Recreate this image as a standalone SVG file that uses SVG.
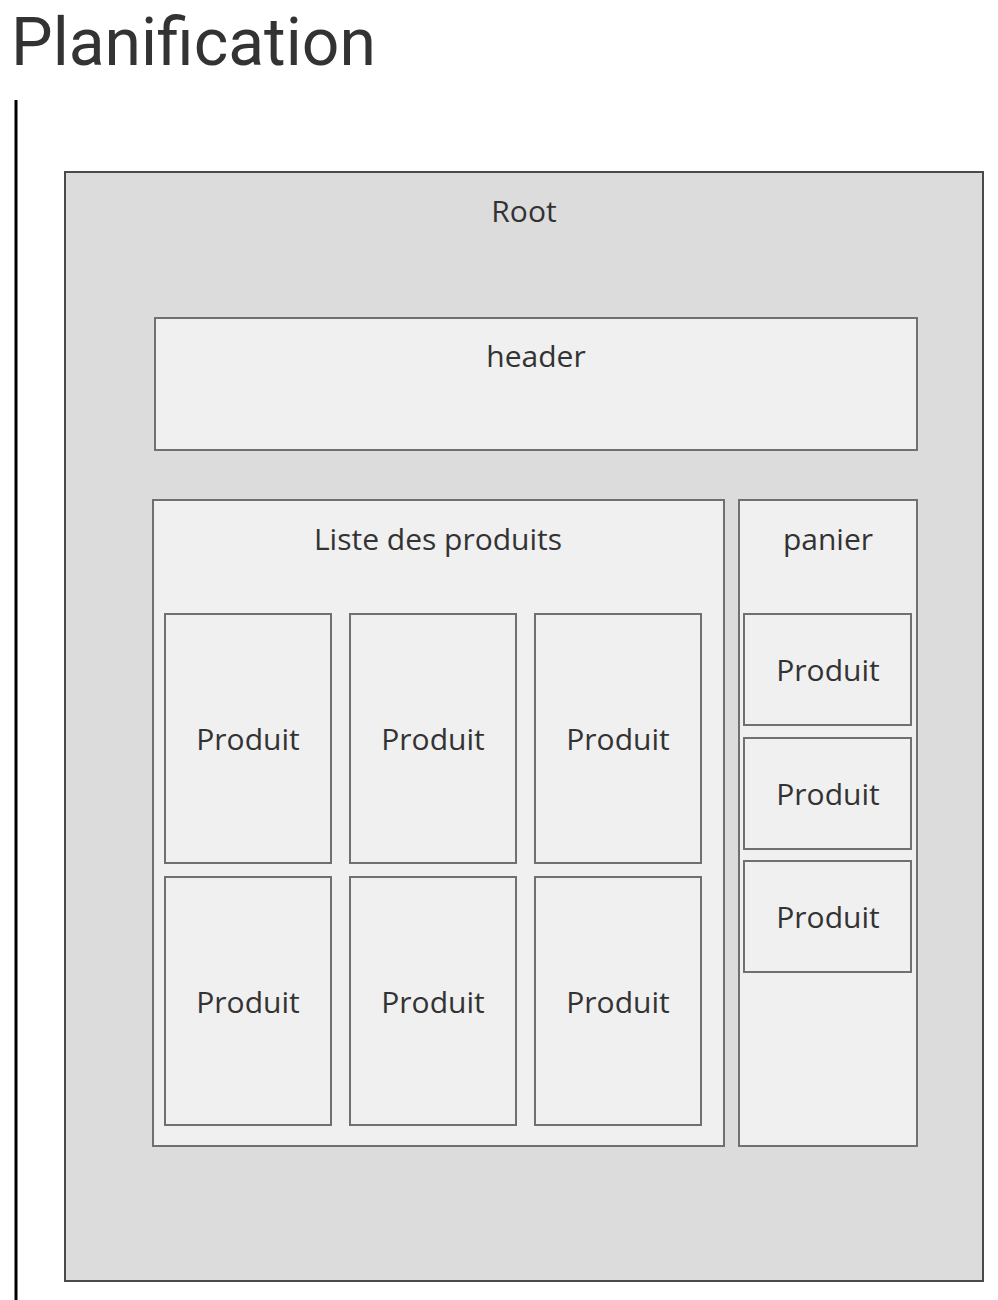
<svg xmlns="http://www.w3.org/2000/svg" width="998" height="1300" viewBox="0 0 998 1300">
<style>
.bg{fill:#ffffff}
.root{fill:#dcdcdc;stroke:#4a4a4a;stroke-width:2}
.box{fill:#f0f0f0;stroke:#707070;stroke-width:2}
.lbl{font-family:"Open Sans","Noto Sans",sans-serif;font-size:30px;fill:#333;text-anchor:middle}
.title{font-family:Roboto,"Liberation Sans",sans-serif;font-size:66px;fill:#333}
</style>
<rect class="bg" x="0" y="0" width="998" height="1300"/>
<text class="title" x="11" y="65">Planification</text>
<line x1="16" y1="100" x2="16" y2="1300" stroke="#000" stroke-width="3"/>
<g id="root">
<rect class="root" x="65" y="172" width="918" height="1109"/>
<text class="lbl" x="524" y="222">Root</text>
</g>
<g id="header">
<rect class="box" x="155" y="318" width="762" height="132"/>
<text class="lbl" x="536" y="367">header</text>
</g>
<g id="liste">
<rect class="box" x="153" y="500" width="571" height="646"/>
<text class="lbl" x="438" y="550">Liste des produits</text>
</g>
<g id="panier">
<rect class="box" x="739" y="500" width="178" height="646"/>
<text class="lbl" x="828" y="550">panier</text>
</g>
<g id="p1"><rect class="box" x="165" y="614" width="166" height="249"/><text class="lbl" x="248" y="750">Produit</text></g>
<g id="p2"><rect class="box" x="350" y="614" width="166" height="249"/><text class="lbl" x="433" y="750">Produit</text></g>
<g id="p3"><rect class="box" x="535" y="614" width="166" height="249"/><text class="lbl" x="618" y="750">Produit</text></g>
<g id="p4"><rect class="box" x="165" y="877" width="166" height="248"/><text class="lbl" x="248" y="1013">Produit</text></g>
<g id="p5"><rect class="box" x="350" y="877" width="166" height="248"/><text class="lbl" x="433" y="1013">Produit</text></g>
<g id="p6"><rect class="box" x="535" y="877" width="166" height="248"/><text class="lbl" x="618" y="1013">Produit</text></g>
<g id="c1"><rect class="box" x="744" y="614" width="167" height="111"/><text class="lbl" x="828" y="681">Produit</text></g>
<g id="c2"><rect class="box" x="744" y="738" width="167" height="111"/><text class="lbl" x="828" y="805">Produit</text></g>
<g id="c3"><rect class="box" x="744" y="861" width="167" height="111"/><text class="lbl" x="828" y="928">Produit</text></g>
<g id="connectors"></g>
</svg>
